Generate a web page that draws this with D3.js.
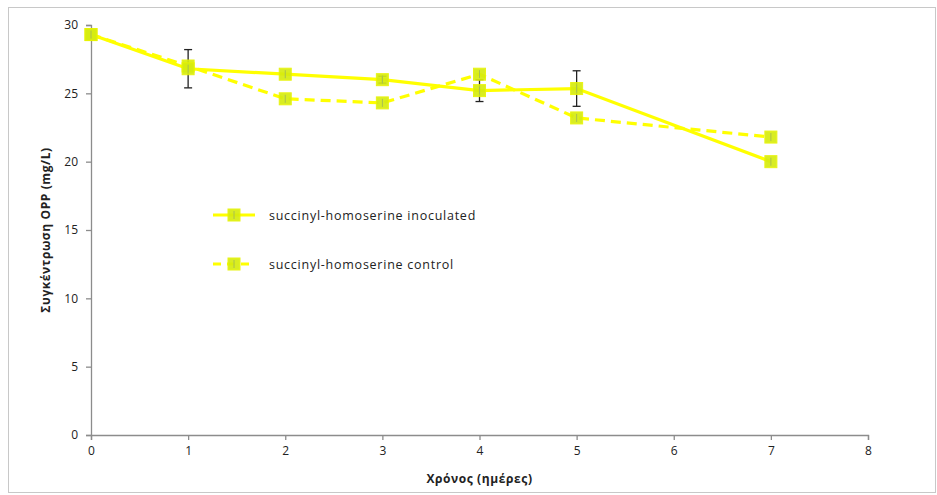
<!DOCTYPE html>
<html>
<head>
<meta charset="utf-8">
<script src="https://cdn.jsdelivr.net/npm/d3@7"></script>
<style>
  body { margin: 0; background: #fff; }
  svg { display: block; }
  text { font-family: "Open Sans", sans-serif; fill: #222; }
</style>
</head>
<body>
<svg id="chart" width="937" height="495"></svg>
<script>
// Time points (days) and OPP concentration (mg/L)
const days = [0, 1, 2, 3, 4, 5, 7];
const inoculated = [29.3, 26.8, 26.4, 26.0, 25.2, 25.35, 20.0];
const inoculatedErr = [0, 1.4, 0, 0.25, 0.8, 1.3, 0];
const control = [29.3, 27.0, 24.6, 24.3, 26.4, 23.2, 21.8];
const xTicks = [0, 1, 2, 3, 4, 5, 6, 7, 8];
const yTicks = [0, 5, 10, 15, 20, 25, 30];
const seriesNames = ["succinyl-homoserine inoculated", "succinyl-homoserine control"];

const svg = d3.select("#chart");
const W = 937, H = 495;
const m = { left: 91, right: 69, top: 25, bottom: 60 };
const font = "'Open Sans', sans-serif";

// outer frame
svg.append("rect")
  .attr("x", 8.5).attr("y", 7.5)
  .attr("width", W - 10).attr("height", H - 10)
  .attr("fill", "none").attr("stroke", "#c8c8c8").attr("stroke-width", 1);

const x = d3.scaleLinear().domain([0, 8]).range([m.left, W - m.right]);
const y = d3.scaleLinear().domain([0, 30]).range([H - m.bottom, m.top]);

const axisColor = "#8c8c8c";

// x axis
const gx = svg.append("g")
  .attr("transform", `translate(0,${y(0)})`)
  .call(d3.axisBottom(x).tickValues(xTicks).tickSize(5).tickPadding(6).tickFormat(d3.format("d")));
// y axis
const gy = svg.append("g")
  .attr("transform", `translate(${x(0)},0)`)
  .call(d3.axisLeft(y).tickValues(yTicks).tickSize(5).tickPadding(8).tickFormat(d3.format("d")));

[gx, gy].forEach(g => {
  g.select(".domain").attr("stroke", axisColor).attr("stroke-width", 1.3);
  g.selectAll(".tick line").attr("stroke", axisColor).attr("stroke-width", 1.3);
  g.selectAll(".tick text").style("font-size", "12px").style("font-family", font).attr("fill", "#222");
});

// axis titles
svg.append("text")
  .attr("x", x(4)).attr("y", 483)
  .attr("text-anchor", "middle")
  .style("font-size", "12px").style("font-weight", "bold").style("letter-spacing", "0.6px")
  .text("Χρόνος (ημέρες)");

svg.append("text")
  .attr("transform", `translate(50,${y(15)}) rotate(-90)`)
  .attr("text-anchor", "middle")
  .style("font-size", "12px").style("font-weight", "bold").style("letter-spacing", "0.6px")
  .text("Συγκέντρωση OPP (mg/L)");

const lineColor = "#ffff00";
const markerFill = "#d6ec10";
const line = d3.line().x((d, i) => x(days[i])).y(d => y(d));

// control series (dashed)
svg.append("path")
  .datum(control)
  .attr("d", line)
  .attr("fill", "none").attr("stroke", lineColor)
  .attr("stroke-width", 3.2).attr("stroke-dasharray", "10,6");

// inoculated series (solid)
svg.append("path")
  .datum(inoculated)
  .attr("d", line)
  .attr("fill", "none").attr("stroke", lineColor)
  .attr("stroke-width", 3.2);

// error bars for inoculated series
const errG = svg.append("g").attr("stroke", "#222").attr("stroke-width", 1.3);
inoculated.forEach((v, i) => {
  const e = inoculatedErr[i];
  if (!e) return;
  const cx = x(days[i]);
  errG.append("line").attr("x1", cx).attr("x2", cx).attr("y1", y(v + e)).attr("y2", y(v - e));
  errG.append("line").attr("x1", cx - 4).attr("x2", cx + 4).attr("y1", y(v + e)).attr("y2", y(v + e));
  errG.append("line").attr("x1", cx - 4).attr("x2", cx + 4).attr("y1", y(v - e)).attr("y2", y(v - e));
});

function marker(g, cx, cy) {
  g.append("rect")
    .attr("x", cx - 6).attr("y", cy - 6)
    .attr("width", 12).attr("height", 12)
    .attr("fill", markerFill).attr("stroke", "#e8f400").attr("stroke-width", 1)
    .attr("opacity", 0.92);
  g.append("line")
    .attr("x1", cx).attr("x2", cx).attr("y1", cy - 4).attr("y2", cy + 4)
    .attr("stroke", "#a8c050").attr("stroke-width", 1);
}

const mk = svg.append("g");
control.forEach((v, i) => marker(mk, x(days[i]), y(v)));
inoculated.forEach((v, i) => marker(mk, x(days[i]), y(v)));

// legend
const legend = svg.append("g");
const legY = [215, 264];
legY.forEach((ly, k) => {
  legend.append("line")
    .attr("x1", 213).attr("x2", 255).attr("y1", ly).attr("y2", ly)
    .attr("stroke", lineColor).attr("stroke-width", 3.2)
    .attr("stroke-dasharray", k === 1 ? "8,6" : null);
  marker(legend, 234, ly);
  legend.append("text")
    .attr("x", 269).attr("y", ly + 4.5)
    .style("font-size", "12.5px").style("letter-spacing", "0.75px")
    .text(seriesNames[k]);
});
</script>
</body>
</html>
